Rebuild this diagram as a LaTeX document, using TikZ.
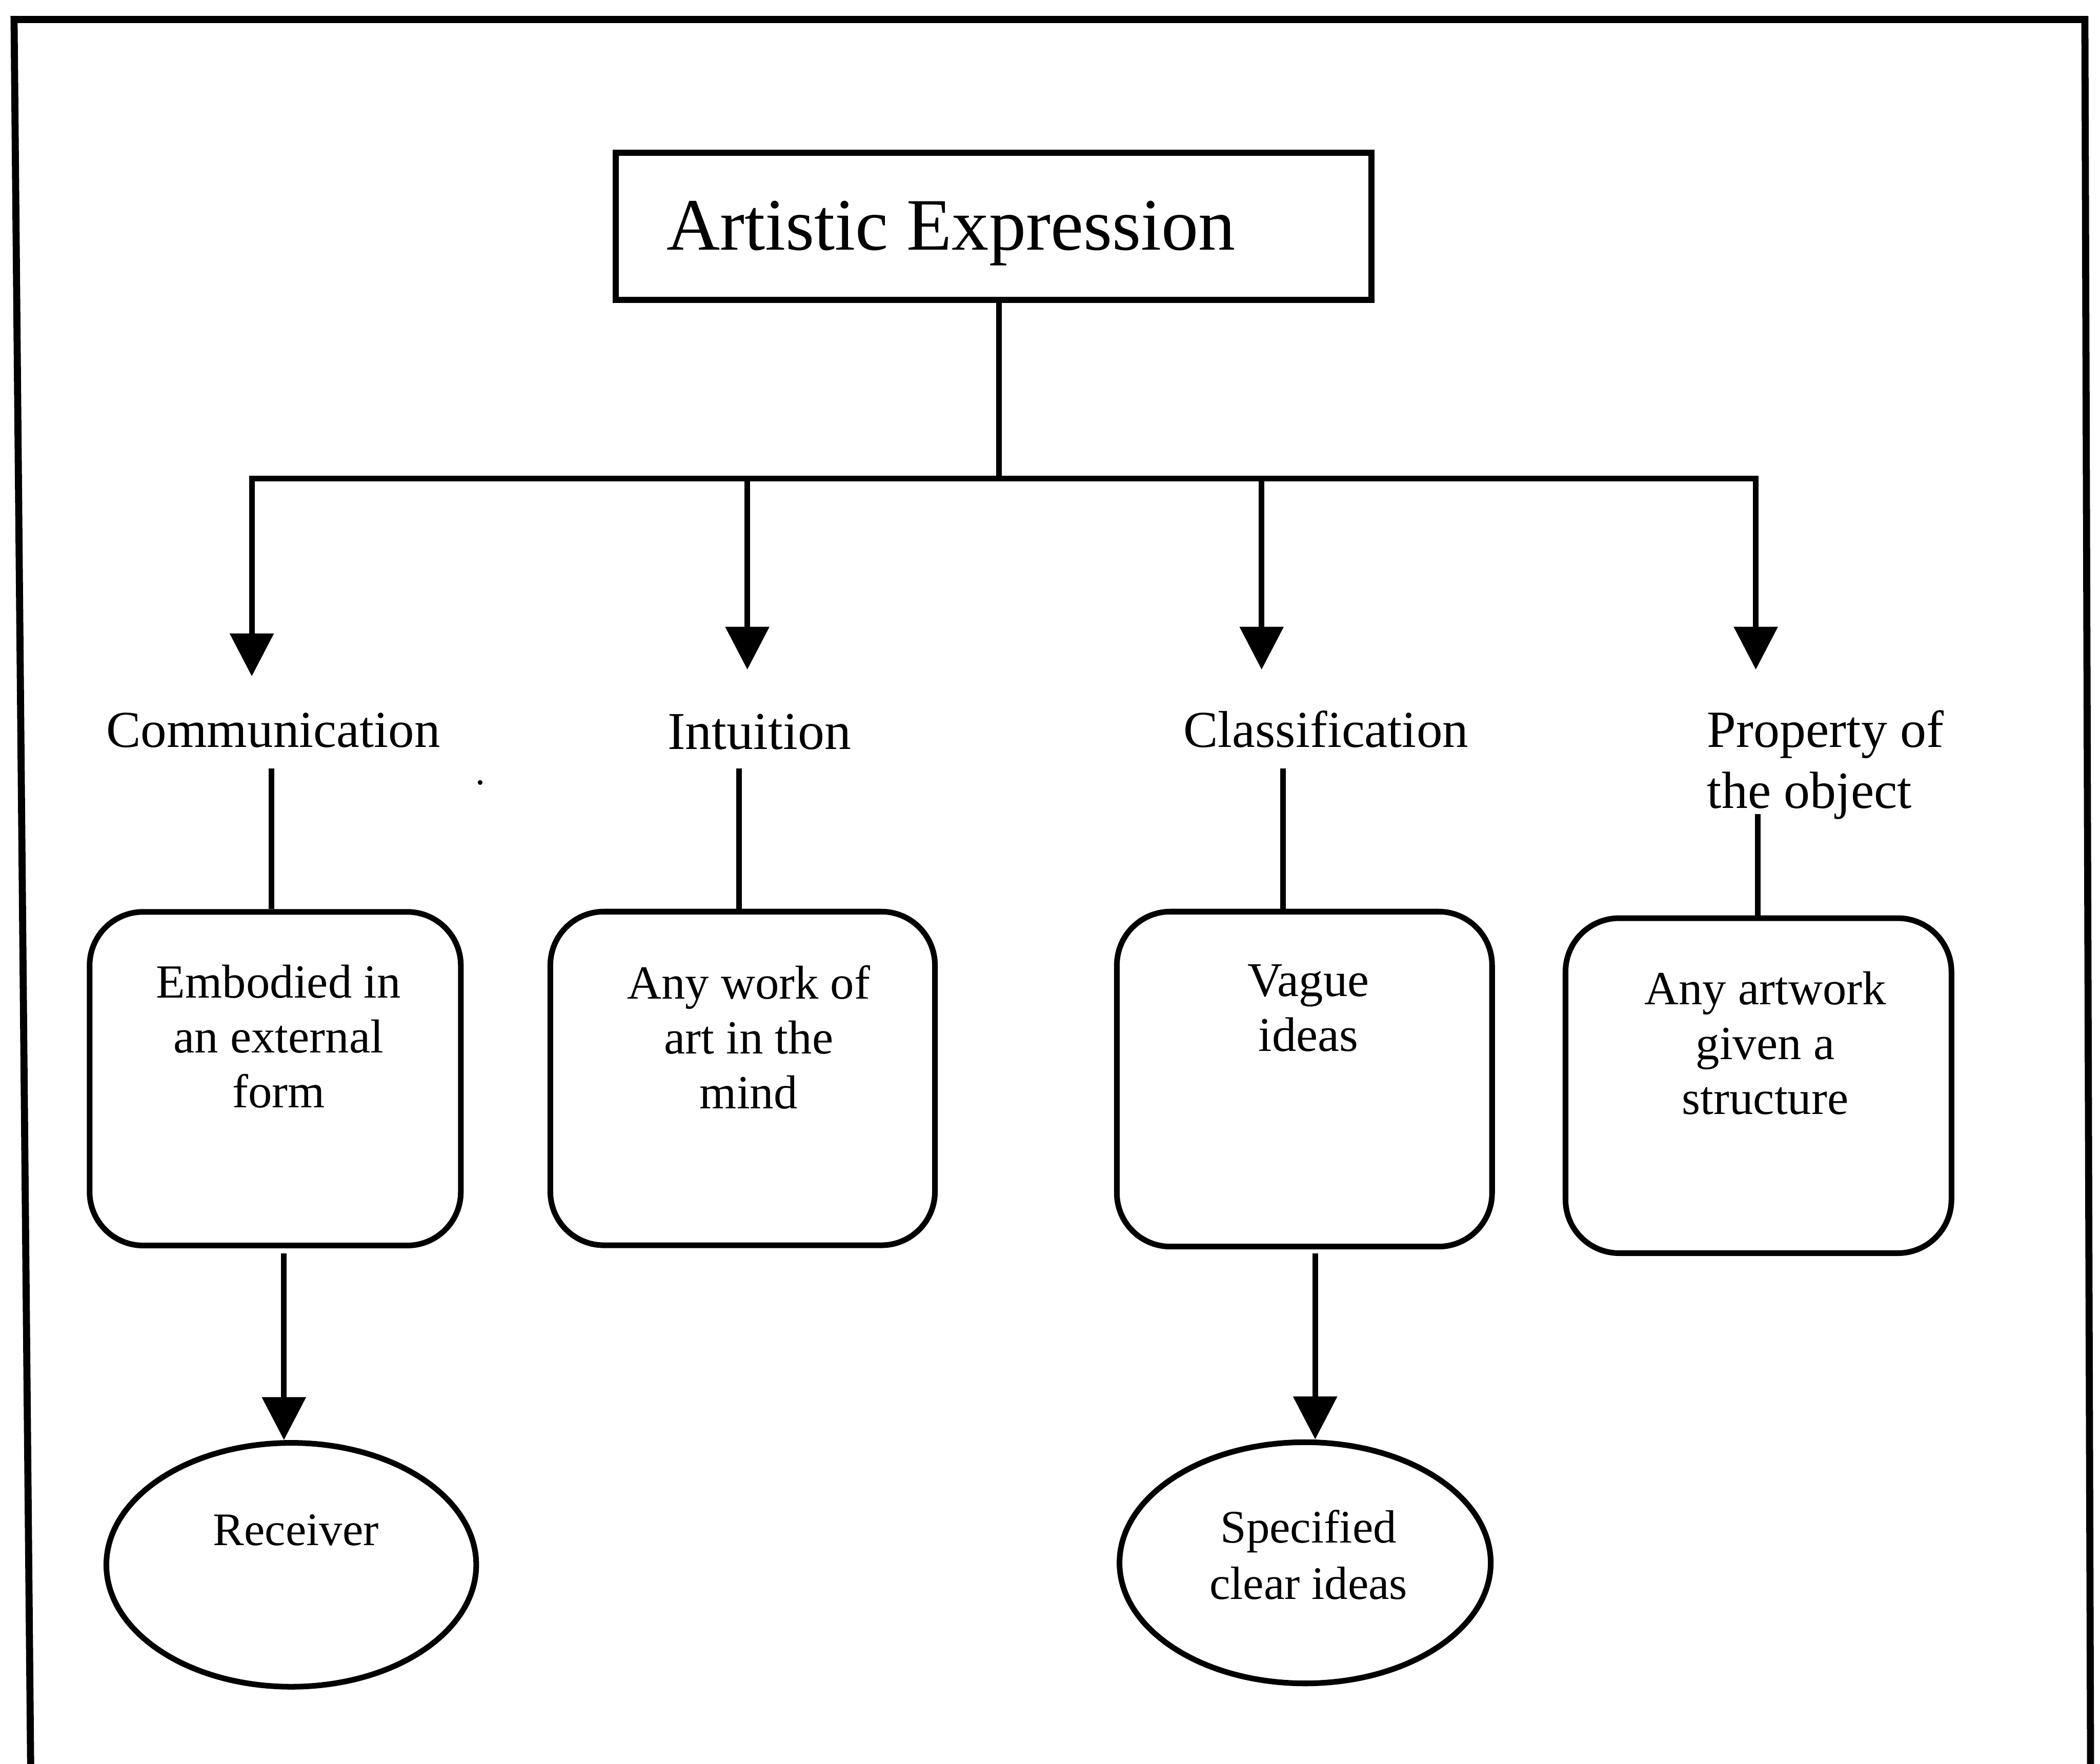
\documentclass[tikz,border=0pt]{standalone}
\usepackage{fontspec}
\setmainfont{Liberation Serif}
\usetikzlibrary{shapes.geometric,arrows.meta}
\newcommand\mlc[1]{\begin{tabular}[t]{@{}c@{}}#1\end{tabular}}
\newcommand\mll[1]{\begin{tabular}[t]{@{}l@{}}#1\end{tabular}}
\tikzset{
  ln/.style={line width=1.2pt},
  arr/.style={line width=1.2pt, -{Triangle[width=0.32cm,length=0.32cm]}},
  lab/.style={inner sep=0pt, anchor=base, font=\fontsize{11}{11.66}\selectfont},
  btxt/.style={inner sep=0pt, anchor=base, font=\fontsize{10.1}{11.66}\selectfont},
  rbox/.style={draw, line width=1.2pt, rounded corners=0.4cm, inner sep=0pt},
  oval/.style={draw, ellipse, line width=1.2pt, inner sep=0pt},
}
\begin{document}
\begin{tikzpicture}[x=0.01cm,y=-0.01cm]
\useasboundingbox (0,0) rectangle (1568,1317);

% outer frame (open at bottom)
\coordinate (f1) at (23,1330);
\coordinate (f2) at (10.5,14.5);
\coordinate (f3) at (1556.7,14.5);
\coordinate (f4) at (1561,1330);
\draw[line width=1.5pt] (f1) -- (f2) -- (f3) -- (f4);

% title
\node[draw, line width=1.3pt, minimum width=5.64cm, minimum height=1.10cm, inner sep=0pt] (title) at (742,169) {};
\node[anchor=base west, inner sep=0pt, font=\fontsize{15.7}{18}\selectfont] (titletext) at (497,186.5) {Artistic Expression};

% tree connectors
\coordinate (bar) at (746,357.5);
\coordinate (barL) at (188,357.5);
\coordinate (barR) at (1311,357.5);
\coordinate (j2) at (558,357.5);
\coordinate (j3) at (942,357.5);
\coordinate (tip1) at (188,505);
\coordinate (tip2) at (558,500);
\coordinate (tip3) at (942,500);
\coordinate (tip4) at (1311,500);
\draw[ln] (title.south -| bar) -- (bar);
\draw[ln] (j2) -- (j3);
\draw[arr] (j2) -- (barL) -- (tip1);
\draw[arr] (j3) -- (barR) -- (tip4);
\draw[arr] (j2) -- (tip2);
\draw[arr] (j3) -- (tip3);

% labels
\node[lab] (t1) at (204,558) {Communication};
\node[lab, font=\fontsize{11.3}{11.66}\selectfont] (t2) at (567,559.5) {Intuition};
\node[lab] (t3) at (990,558) {Classification};
\node[lab, anchor=base west, font=\fontsize{11.1}{12.9}\selectfont] (t4) at (1274,558) {\mll{Property of\\the object}};

% rounded boxes
\node[rbox, minimum width=2.77cm, minimum height=2.49cm] (box1) at (205.5,805.5) {};
\node[rbox, minimum width=2.87cm, minimum height=2.49cm] (box2) at (554.5,805.3) {};
\node[rbox, minimum width=2.80cm, minimum height=2.50cm] (box3) at (974,805.8) {};
\node[rbox, minimum width=2.88cm, minimum height=2.50cm] (box4) at (1313,810.7) {};

\node[btxt] (b1t) at (208,745) {\mlc{Embodied in\\an external\\form}};
\node[btxt] (b2t) at (559,746) {\mlc{Any work of\\art in the\\mind}};
\node[btxt, font=\fontsize{10.3}{11.66}\selectfont] (b3t) at (977,744) {\mlc{Vague\\ideas}};
\node[btxt] (b4t) at (1318,750) {\mlc{Any artwork\\given a\\structure}};

% label-to-box connectors
\coordinate (c1) at (202.6,574);
\coordinate (c2) at (552,574);
\coordinate (c3) at (958,574);
\coordinate (c4) at (1312.6,608);
\draw[ln] (c1) -- (c1 |- box1.north);
\draw[ln] (c2) -- (c2 |- box2.north);
\draw[ln] (c3) -- (c3 |- box3.north);
\draw[ln] (c4) -- (c4 |- box4.north);

% ellipses
\node[oval, minimum width=2.76cm, minimum height=1.82cm] (rec) at (217.5,1168.5) {};
\node[oval, minimum width=2.77cm, minimum height=1.80cm] (spec) at (974.5,1167) {};
\node[btxt, font=\fontsize{9.9}{12}\selectfont] (rect) at (221,1154) {Receiver};
\node[btxt, font=\fontsize{9.9}{12}\selectfont] (spect) at (977,1152) {\mlc{Specified\\clear ideas}};

% lower arrows
\coordinate (d1) at (212,936);
\coordinate (d3) at (982,936);
\draw[arr] (d1) -- (d1 |- rec.north);
\draw[arr] (d3) -- (d3 |- spec.north);

% stray dot
\fill (358.5,584.3) circle[radius=0.018cm];
\end{tikzpicture}
\end{document}
